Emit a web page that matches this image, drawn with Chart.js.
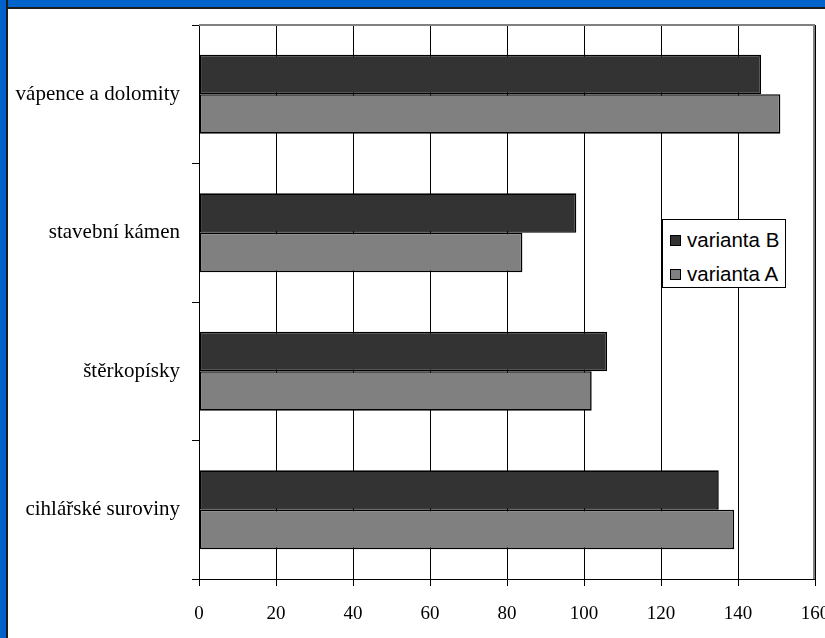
<!DOCTYPE html>
<html>
<head>
<meta charset="utf-8">
<script src="https://cdn.jsdelivr.net/npm/chart.js@4/dist/chart.umd.min.js"></script>
<style>
  html, body { margin: 0; padding: 0; background: #fff; overflow: hidden; width: 825px; height: 638px; }
  #wrap { position: relative; width: 825px; height: 638px; overflow: hidden; }
  #chart { position: absolute; left: 0; top: 0; }
  .frame-top { position: absolute; left: 0; top: 0; width: 825px; height: 7px; background: #0063cc; border-bottom: 2px solid #1c1c1c; }
  .frame-left { position: absolute; left: 0; top: 0; width: 6px; height: 638px; background: #0063cc; border-right: 2px solid #1c1c1c; }
  #legend { position: absolute; left: 662px; top: 219px; width: 122px; height: 67px; border: 1px solid #000; background: #fff;
            font-family: "Liberation Sans", Arial, sans-serif; font-size: 20.5px; color: #000; }
  #legend .item { position: absolute; left: 7px; display: flex; align-items: center; height: 22px; }
  #legend .box { width: 9px; height: 9px; border: 1px solid #000; margin-right: 6px; }
</style>
</head>
<body>
<div id="wrap">
  <canvas id="chart" width="840" height="638" style="width:840px;height:638px"></canvas>
  <div class="frame-top"></div>
  <div class="frame-left"></div>
  <div id="legend"></div>
</div>
<script>
// Production by raw material (two variants)
const categories = ['vápence a dolomity', 'stavební kámen', 'štěrkopísky', 'cihlářské suroviny'];
const variantaB = [146, 98, 106, 135];
const variantaA = [151, 84, 102, 139];
const seriesNames = ['varianta B', 'varianta A'];
const seriesColors = ['#333333', '#808080'];
const xMin = 0, xMax = 160, xStep = 20;

const serif = '"Liberation Serif", "Times New Roman", Times, serif';

// Gray border along the top and right of the plot area
const plotFrame = {
  id: 'plotFrame',
  beforeDatasetsDraw(chart) {
    const { ctx, chartArea: a } = chart;
    ctx.save();
    ctx.strokeStyle = '#808080';
    ctx.lineWidth = 2;
    ctx.beginPath();
    ctx.moveTo(a.left, a.top);
    ctx.lineTo(a.right - 1, a.top);
    ctx.lineTo(a.right - 1, a.bottom);
    ctx.stroke();
    ctx.restore();
  }
};

const chart = new Chart(document.getElementById('chart'), {
  type: 'bar',
  data: {
    labels: categories,
    datasets: [
      { label: seriesNames[0], data: variantaB, backgroundColor: seriesColors[0] },
      { label: seriesNames[1], data: variantaA, backgroundColor: seriesColors[1] }
    ]
  },
  options: {
    indexAxis: 'y',
    responsive: false,
    devicePixelRatio: 1,
    animation: false,
    layout: { padding: { left: 0, top: 25, right: 25, bottom: 0 } },
    datasets: {
      bar: { categoryPercentage: 0.57, barPercentage: 1.0, borderColor: '#000', borderWidth: 1.6, borderSkipped: false }
    },
    plugins: { legend: { display: false }, tooltip: { enabled: false } },
    scales: {
      x: {
        min: xMin, max: xMax,
        afterFit(scale) { scale.height = 59; scale.paddingLeft = 0; scale.paddingRight = 0; },
        ticks: { stepSize: xStep, color: '#000', padding: 17, maxRotation: 0,
                 font: { family: serif, size: 19 } },
        grid: { color: '#000', lineWidth: 1, tickLength: 7, drawTicks: true },
        border: { color: '#000', width: 1 }
      },
      y: {
        afterFit(scale) { scale.width = 199; scale.paddingTop = 0; scale.paddingBottom = 0; },
        ticks: { color: '#000', padding: 12, font: { family: serif, size: 21 } },
        grid: { offset: true, drawOnChartArea: false, color: '#000', tickLength: 7 },
        border: { color: '#000', width: 1 }
      }
    }
  },
  plugins: [plotFrame]
});

// Legend box built from the chart's own legend items
const legendEl = document.getElementById('legend');
const items = chart.options.plugins.legend.labels.generateLabels(chart);
items.forEach((it, i) => {
  const row = document.createElement('div');
  row.className = 'item';
  row.style.top = (9 + i * 34) + 'px';
  const box = document.createElement('span');
  box.className = 'box';
  box.style.background = it.fillStyle;
  const txt = document.createElement('span');
  txt.textContent = it.text;
  row.appendChild(box);
  row.appendChild(txt);
  legendEl.appendChild(row);
});
</script>
</body>
</html>
